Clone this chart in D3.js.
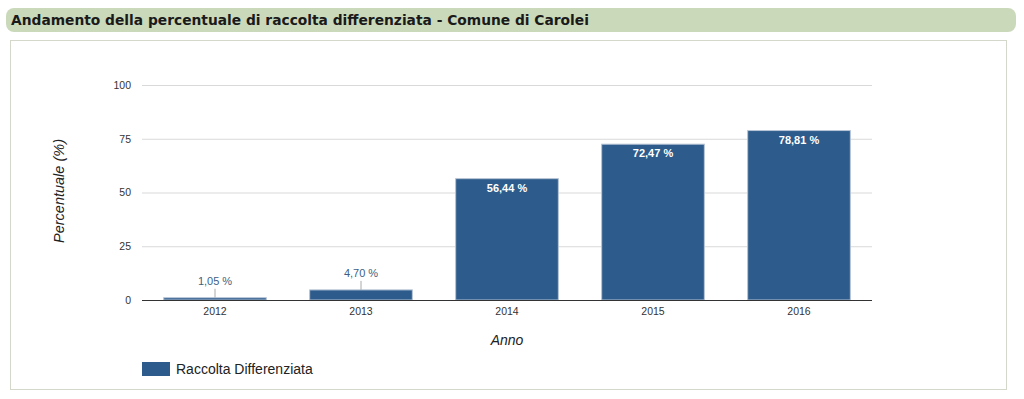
<!doctype html>
<html>
  <head>
    <meta charset="utf-8">
    <title>Andamento della percentuale di raccolta differenziata</title>
    <script src="https://cdnjs.cloudflare.com/ajax/libs/d3/7.8.5/d3.min.js"></script>
    <style>
      body { margin: 0; background: #fff; font-family: "Liberation Sans", Arial, sans-serif; }
    </style>
  </head>
  <body>
    <div id="chart"></div>
    <script>
      // data
      const years = ['2012', '2013', '2014', '2015', '2016'];
      const values = [1.05, 4.70, 56.44, 72.47, 78.81];
      const yTicks = [0, 25, 50, 75, 100];

      const fmt = v => v.toFixed(2).replace('.', ',') + ' %';

      const svg = d3.select('#chart')
        .append('svg')
        .attr('width', 1024)
        .attr('height', 399);

      // title bar
      svg.append('rect')
        .attr('x', 6).attr('y', 8)
        .attr('width', 1010).attr('height', 24)
        .attr('rx', 8)
        .attr('fill', '#cbd9bb');
      svg.append('text')
        .attr('x', 11).attr('y', 25)
        .attr('font-family', 'DejaVu Sans, sans-serif')
        .attr('font-size', 13.8)
        .attr('font-weight', 'bold')
        .attr('fill', '#1a1a1a')
        .text('Andamento della percentuale di raccolta differenziata - Comune di Carolei');

      // panel
      svg.append('rect')
        .attr('x', 10.5).attr('y', 40.5)
        .attr('width', 996).attr('height', 349)
        .attr('fill', '#fff')
        .attr('stroke', '#d3d8cb');

      const x = d3.scaleBand()
        .domain(years)
        .range([142, 872])
        .paddingInner(0.29)
        .paddingOuter(0.145);

      const y = d3.scaleLinear()
        .domain([0, 100])
        .range([300, 85]);

      // gridlines + y labels
      const yAxis = svg.append('g')
        .attr('transform', 'translate(142,0)')
        .call(d3.axisLeft(y).tickValues(yTicks).tickSize(-730).tickPadding(11));
      yAxis.select('.domain').remove();
      yAxis.selectAll('.tick line').attr('stroke', '#d9d9d9');
      yAxis.selectAll('.tick text')
        .attr('font-family', 'Liberation Sans, Arial, sans-serif')
        .attr('font-size', 10.5)
        .attr('fill', '#333');

      // bars
      svg.append('g')
        .selectAll('rect')
        .data(values)
        .join('rect')
        .attr('x', (d, i) => x(years[i]) + 0.5)
        .attr('y', d => y(d))
        .attr('width', x.bandwidth() - 1)
        .attr('height', d => y(0) - y(d))
        .attr('fill', '#2d5b8b')
        .attr('stroke', '#b7c4d6')
        .attr('stroke-width', 1);

      // x axis
      const xAxis = svg.append('g')
        .attr('transform', 'translate(0,300)')
        .call(d3.axisBottom(x).tickSize(0).tickPadding(8));
      xAxis.select('.domain').attr('stroke', '#333').attr('d', 'M142,0.5H872');
      xAxis.selectAll('.tick text')
        .attr('font-family', 'Liberation Sans, Arial, sans-serif')
        .attr('font-size', 10.5)
        .attr('fill', '#333');

      // value labels
      const labels = svg.append('g');
      values.forEach((v, i) => {
        const cx = x(years[i]) + x.bandwidth() / 2;
        if (v > 20) {
          labels.append('text')
            .attr('x', cx).attr('y', y(v) + 13)
            .attr('text-anchor', 'middle')
            .attr('font-size', 11)
            .attr('font-weight', 'bold')
            .attr('fill', '#fff')
            .text(fmt(v));
        } else {
          labels.append('line')
            .attr('x1', cx).attr('x2', cx)
            .attr('y1', y(v)).attr('y2', y(v) - 9)
            .attr('stroke', '#aaa');
          labels.append('text')
            .attr('x', cx).attr('y', y(v) - 13)
            .attr('text-anchor', 'middle')
            .attr('font-size', 11)
            .attr('fill', '#3b5f86')
            .text(fmt(v));
        }
      });

      // axis titles
      svg.append('text')
        .attr('transform', 'translate(64,191) rotate(-90)')
        .attr('text-anchor', 'middle')
        .attr('font-size', 14.5)
        .attr('font-style', 'italic')
        .attr('fill', '#222')
        .text('Percentuale (%)');
      svg.append('text')
        .attr('x', 507).attr('y', 345)
        .attr('text-anchor', 'middle')
        .attr('font-size', 14)
        .attr('font-style', 'italic')
        .attr('fill', '#222')
        .text('Anno');

      // legend
      svg.append('rect')
        .attr('x', 142).attr('y', 362)
        .attr('width', 28).attr('height', 14)
        .attr('fill', '#2d5b8b');
      svg.append('text')
        .attr('x', 176).attr('y', 374)
        .attr('font-size', 14)
        .attr('fill', '#222')
        .text('Raccolta Differenziata');
    </script>
  </body>
</html>
